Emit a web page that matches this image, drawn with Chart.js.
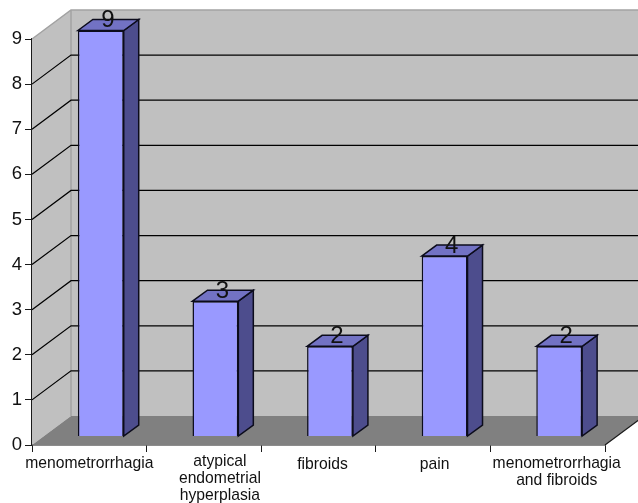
<!DOCTYPE html>
<html>
<head>
<meta charset="utf-8">
<style>
  html, body { margin: 0; padding: 0; background: #fff; }
  canvas { display: block; }
</style>
<script src="https://cdn.jsdelivr.net/npm/chart.js@4"></script>
</head>
<body>
<canvas id="chart" width="638" height="503"></canvas>
<script>
const categories = [
  'menometrorrhagia',
  ['atypical', 'endometrial', 'hyperplasia'],
  'fibroids',
  'pain',
  ['menometrorrhagia', 'and fibroids']
];
const counts = [9, 3, 2, 4, 2];
const yTicks = [0, 1, 2, 3, 4, 5, 6, 7, 8, 9];

// Oblique projection used for the box: full depth of the room, and the bar placement inside it.
const ROOM = { dx: 39, dy: -29 };
const BAR_OFFSET = { dx: 11.5, dy: -8.5 };
const BAR_DEPTH = { dx: 15, dy: -11 };
const LABEL_NUDGE_X = [0, 16, 4, 1.5, 9];
const LABEL_NUDGE_Y = [1, -1, 2, 2, 1];

const COLORS = {
  wall: '#c0c0c0', wallEdge: '#a2a2a2', floor: '#808080', grid: '#000000',
  front: '#9999ff', side: '#4d4d8d', top: '#7272c4', edge: '#0c0c1c', axis: '#1a1a1a', text: '#111111'
};

function poly(ctx, pts, fill, stroke, lw) {
  ctx.beginPath();
  pts.forEach((p, i) => i ? ctx.lineTo(p[0], p[1]) : ctx.moveTo(p[0], p[1]));
  ctx.closePath();
  if (fill) { ctx.fillStyle = fill; ctx.fill(); }
  if (stroke) { ctx.strokeStyle = stroke; ctx.lineWidth = lw; ctx.stroke(); }
}

const roomPlugin = {
  id: 'room',
  afterLayout(chart) {
    // shift the category captions, once per layout
    chart.scales.x.getLabelItems().forEach((item, i) => {
      item.options.translation[0] += LABEL_NUDGE_X[i];
      item.options.translation[1] += LABEL_NUDGE_Y[i];
    });
  },
  beforeDatasetsDraw(chart) {
    const { ctx, scales: { x, y } } = chart;
    const left = x.left, right = x.right;
    const y0 = y.getPixelForValue(0), yMax = y.getPixelForValue(yTicks[yTicks.length - 1]);
    const d = ROOM;
    ctx.save();
    // back wall
    poly(ctx, [[left + d.dx, yMax + d.dy], [right + d.dx, yMax + d.dy], [right + d.dx, y0 + d.dy], [left + d.dx, y0 + d.dy]], COLORS.wall);
    // side wall
    poly(ctx, [[left, yMax], [left + d.dx, yMax + d.dy], [left + d.dx, y0 + d.dy], [left, y0]], COLORS.wall);
    // floor
    poly(ctx, [[left, y0], [right, y0], [right + d.dx, y0 + d.dy], [left + d.dx, y0 + d.dy]], COLORS.floor);
    // wall edges
    ctx.strokeStyle = COLORS.wallEdge;
    ctx.lineWidth = 1.5;
    ctx.beginPath();
    ctx.moveTo(left, yMax);
    ctx.lineTo(left + d.dx, yMax + d.dy);
    ctx.lineTo(right + d.dx, yMax + d.dy);
    ctx.moveTo(left + d.dx, yMax + d.dy);
    ctx.lineTo(left + d.dx, y0 + d.dy);
    ctx.stroke();
    // gridlines run across the side wall and along the back wall
    ctx.strokeStyle = COLORS.grid;
    ctx.lineWidth = 1.2;
    yTicks.slice(1, -1).forEach(v => {
      const py = y.getPixelForValue(v);
      ctx.beginPath();
      ctx.moveTo(left, py);
      ctx.lineTo(left + d.dx, py + d.dy);
      ctx.lineTo(right + d.dx, py + d.dy);
      ctx.stroke();
    });
    // open front corner of the floor
    ctx.beginPath();
    ctx.moveTo(right, y0);
    ctx.lineTo(right + d.dx, y0 + d.dy);
    ctx.strokeStyle = COLORS.axis;
    ctx.stroke();

    // top and side faces of each bar
    chart.getDatasetMeta(0).data.forEach(bar => {
      const l = bar.x - bar.width / 2 + BAR_OFFSET.dx;
      const r = bar.x + bar.width / 2 + BAR_OFFSET.dx;
      const t = bar.y + BAR_OFFSET.dy;
      const b = bar.base + BAR_OFFSET.dy;
      const e = BAR_DEPTH;
      poly(ctx, [[r, t], [r + e.dx, t + e.dy], [r + e.dx, b + e.dy], [r, b]], COLORS.side, COLORS.edge, 1.5);
      poly(ctx, [[l, t], [l + e.dx, t + e.dy], [r + e.dx, t + e.dy], [r, t]], COLORS.top, COLORS.edge, 1.5);
    });
    ctx.restore();
  },
  beforeDatasetDraw(chart) {
    chart.ctx.save();
    chart.ctx.translate(BAR_OFFSET.dx, BAR_OFFSET.dy);
  },
  afterDatasetDraw(chart) {
    chart.ctx.restore();
  },
  afterDatasetsDraw(chart) {
    const { ctx } = chart;
    ctx.save();
    ctx.fillStyle = COLORS.text;
    ctx.font = '24px "Liberation Sans", Arial, sans-serif';
    ctx.textAlign = 'center';
    ctx.textBaseline = 'middle';
    chart.getDatasetMeta(0).data.forEach((bar, i) => {
      ctx.fillText(String(counts[i]), bar.x + BAR_OFFSET.dx + 7, bar.y + BAR_OFFSET.dy - 10);
    });
    ctx.restore();
  }
};

new Chart(document.getElementById('chart'), {
  type: 'bar',
  data: {
    labels: categories,
    datasets: [{
      data: counts,
      backgroundColor: COLORS.front,
      borderColor: COLORS.edge,
      borderWidth: 1.5,
      categoryPercentage: 0.4,
      barPercentage: 1,
      clip: false
    }]
  },
  plugins: [roomPlugin],
  options: {
    responsive: false,
    animation: false,
    layout: { padding: { top: 39, right: 33, left: 0, bottom: 0 } },
    plugins: { legend: { display: false }, tooltip: { enabled: false } },
    scales: {
      x: {
        offset: true,
        afterFit(scale) { scale.height = 58; },
        border: { color: COLORS.axis, width: 1.5 },
        grid: { offset: true, drawOnChartArea: false, drawTicks: true, tickLength: 7, color: COLORS.axis },
        ticks: {
          color: COLORS.text,
          maxRotation: 0,
          minRotation: 0,
          autoSkip: false,
          padding: 2,
          font: { family: '"Liberation Sans", Arial, sans-serif', size: 15.7, lineHeight: 1.1 }
        }
      },
      y: {
        min: 0,
        max: 9,
        afterFit(scale) { scale.width = 32; },
        afterBuildTicks(scale) { scale.ticks = yTicks.map(value => ({ value })); },
        border: { color: COLORS.axis, width: 1.5 },
        grid: { drawOnChartArea: false, drawTicks: true, tickLength: 7, color: COLORS.axis },
        ticks: {
          color: COLORS.text,
          padding: 3,
          font: { family: '"Liberation Sans", Arial, sans-serif', size: 18.5 }
        }
      }
    }
  }
});
</script>
</body>
</html>
